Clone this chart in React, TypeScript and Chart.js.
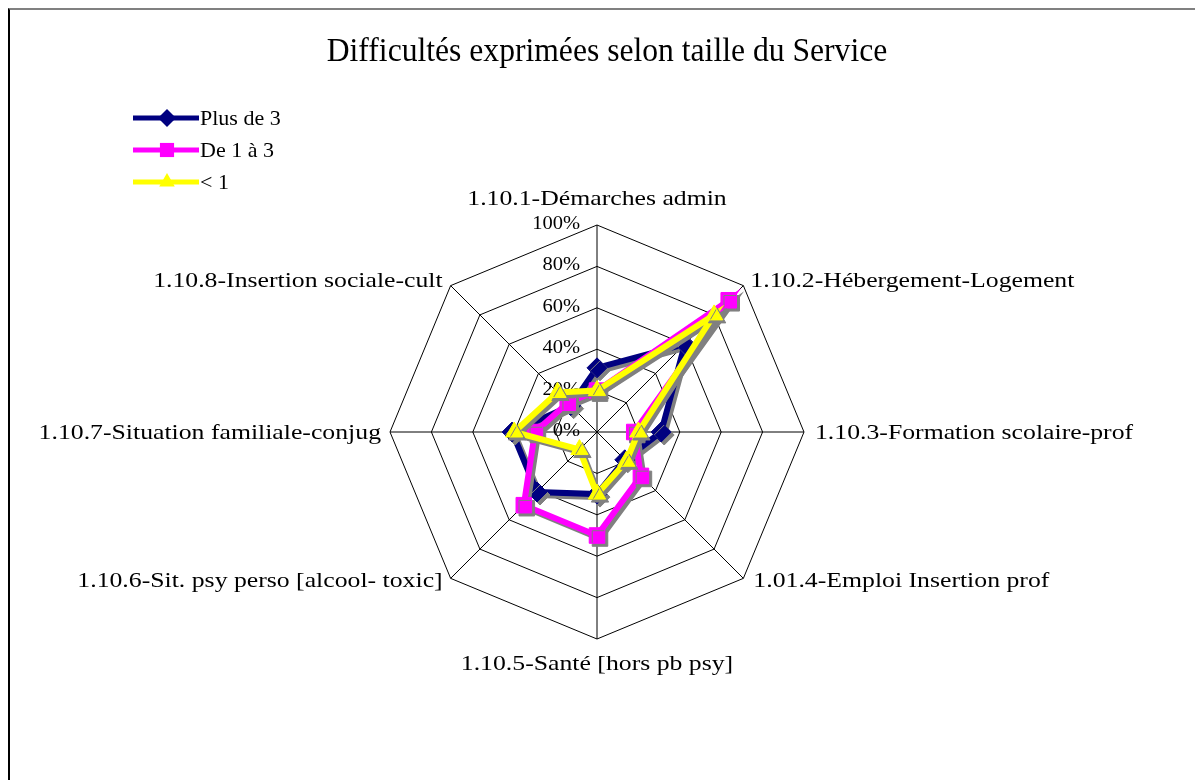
import React, { useEffect, useRef } from "react";
import { Chart, registerables } from "chart.js";

Chart.register(...registerables);

// ---------- data ----------
const TITLE = "Difficultés exprimées selon taille du Service";
const CATEGORIES = [
  "1.10.1-Démarches admin",
  "1.10.2-Hébergement-Logement",
  "1.10.3-Formation scolaire-prof",
  "1.01.4-Emploi Insertion prof",
  "1.10.5-Santé [hors pb psy]",
  "1.10.6-Sit. psy perso [alcool- toxic]",
  "1.10.7-Situation familiale-conjug",
  "1.10.8-Insertion sociale-cult",
];
const SERIES_NAMES = ["Plus de 3", "De 1 à 3", "< 1"];
const PLUS_DE_3 = [31, 60, 31, 19, 30, 41, 41, 18];
const DE_1_A_3 = [20, 90, 18, 30, 50, 50, 30, 20];
const MOINS_DE_1 = [20, 80, 20, 20, 30, 12, 40, 27];
const TICK_LABELS = ["0%", "20%", "40%", "60%", "80%", "100%"];

// ---------- styles ----------
const NAVY = "#000080";
const PINK = "#FF00FF";
const YELLOW = "#FFFF00";
const SERIF = '"Liberation Serif", "Times New Roman", serif';

function drawText(
  ctx: CanvasRenderingContext2D,
  text: string,
  x: number,
  y: number,
  size: number,
  sx: number,
  align: CanvasTextAlign
) {
  ctx.save();
  ctx.font = `${size}px ${SERIF}`;
  ctx.fillStyle = "#000";
  ctx.textAlign = align;
  ctx.textBaseline = "alphabetic";
  ctx.translate(x, y);
  ctx.scale(sx, 1);
  ctx.fillText(text, 0, 0);
  ctx.restore();
}

function drawMarker(ctx: CanvasRenderingContext2D, style: string, x: number, y: number, r: number, color: string) {
  ctx.save();
  ctx.fillStyle = color;
  ctx.beginPath();
  if (style === "rectRot") {
    ctx.moveTo(x, y - r);
    ctx.lineTo(x + r, y);
    ctx.lineTo(x, y + r);
    ctx.lineTo(x - r, y);
    ctx.closePath();
  } else if (style === "rect") {
    const s = r * Math.SQRT1_2;
    ctx.rect(x - s, y - s, 2 * s, 2 * s);
  } else {
    ctx.moveTo(x, y - r);
    ctx.lineTo(x + r * 0.866, y + r * 0.5);
    ctx.lineTo(x - r * 0.866, y + r * 0.5);
    ctx.closePath();
  }
  ctx.fill();
  ctx.restore();
}

const shadowPlugin = {
  id: "excelShadow",
  beforeDatasetDraw(chart: any) {
    const ctx = chart.ctx;
    ctx.save();
    ctx.shadowColor = "#808080";
    ctx.shadowOffsetX = 3;
    ctx.shadowOffsetY = 3;
    ctx.shadowBlur = 0;
  },
  afterDatasetDraw(chart: any) {
    chart.ctx.restore();
  },
};

// label placement (alignment + offsets from the axis end)
const LABEL_PLACE: { align: CanvasTextAlign; dx: number; dy: number }[] = [
  { align: "center", dx: 0, dy: -20 },
  { align: "left", dx: 7, dy: 1 },
  { align: "left", dx: 11, dy: 7 },
  { align: "left", dx: 10, dy: 9 },
  { align: "center", dx: 0, dy: 31 },
  { align: "right", dx: -8, dy: 9 },
  { align: "right", dx: -9, dy: 7 },
  { align: "right", dx: -8, dy: 1 },
];

const textPlugin = {
  id: "excelText",
  beforeDatasetsDraw(chart: any) {
    const ctx = chart.ctx as CanvasRenderingContext2D;
    const scale = chart.scales.r;
    scale.ticks.forEach((t: any) => {
      const d = scale.getDistanceFromCenterForValue(t.value);
      drawText(ctx, t.label, scale.xCenter - 17, scale.yCenter - d + 4, 18, 1.14, "right");
    });
    CATEGORIES.forEach((label, i) => {
      const p = scale.getPointPosition(i, scale.drawingArea);
      const pl = LABEL_PLACE[i];
      drawText(ctx, label, p.x + pl.dx, p.y + pl.dy, 22, 1.17, pl.align);
    });
  },
  afterDraw(chart: any) {
    const ctx = chart.ctx as CanvasRenderingContext2D;
    drawText(ctx, TITLE, 597, 51, 34, 0.93, "center");
    chart.data.datasets.forEach((ds: any, i: number) => {
      const y = 108 + i * 32;
      ctx.save();
      ctx.strokeStyle = ds.borderColor;
      ctx.lineWidth = 5;
      ctx.beginPath();
      ctx.moveTo(123, y);
      ctx.lineTo(189, y);
      ctx.stroke();
      ctx.restore();
      drawMarker(ctx, ds.pointStyle, 157, y, ds.pointRadius - 1, ds.borderColor);
      drawText(ctx, ds.label, 190, y + 7, 22, 1.0, "left");
    });
  },
};

export default function App() {
  const ref = useRef<HTMLCanvasElement>(null);
  useEffect(() => {
    const canvas = ref.current!;
    const chart = new Chart(canvas, {
      type: "radar",
      data: {
        labels: CATEGORIES,
        datasets: [
          {
            label: SERIES_NAMES[0],
            data: PLUS_DE_3,
            borderColor: NAVY,
            backgroundColor: NAVY,
            pointBorderColor: NAVY,
            pointBackgroundColor: NAVY,
            pointStyle: "rectRot",
            pointRadius: 10,
            pointBorderWidth: 1,
            borderWidth: 6,
            fill: false,
            order: 3,
          },
          {
            label: SERIES_NAMES[1],
            data: DE_1_A_3,
            borderColor: PINK,
            backgroundColor: PINK,
            pointBorderColor: PINK,
            pointBackgroundColor: PINK,
            pointStyle: "rect",
            pointRadius: 11,
            pointBorderWidth: 1,
            borderWidth: 6,
            fill: false,
            order: 2,
          },
          {
            label: SERIES_NAMES[2],
            data: MOINS_DE_1,
            borderColor: YELLOW,
            backgroundColor: YELLOW,
            pointBorderColor: YELLOW,
            pointBackgroundColor: YELLOW,
            pointStyle: "triangle",
            pointRadius: 10,
            pointBorderWidth: 1,
            borderWidth: 6,
            fill: false,
            order: 1,
          },
        ],
      } as any,
      options: {
        animation: false,
        responsive: false,
        maintainAspectRatio: false,
        layout: { padding: { left: 380, right: 399, top: 215, bottom: 141 } },
        plugins: {
          legend: { display: false },
          title: { display: false },
          tooltip: { enabled: false },
        },
        elements: { line: { tension: 0 } },
        scales: {
          r: {
            min: 0,
            max: 100,
            ticks: {
              stepSize: 20,
              display: false,
              callback: (_v: any, i: number) => TICK_LABELS[i],
            },
            grid: { color: "#000", lineWidth: 1, circular: false },
            angleLines: { color: "#000", lineWidth: 1 },
            pointLabels: { display: false },
          },
        },
      } as any,
      plugins: [shadowPlugin, textPlugin],
    });
    return () => chart.destroy();
  }, []);
  return (
    <div
      style={{
        width: 1195,
        height: 772,
        boxSizing: "border-box",
        borderTop: "2px solid #808080",
        borderLeft: "2px solid #000",
        overflow: "hidden",
        background: "#fff",
      }}
    >
      <canvas ref={ref} width={1193} height={770} style={{ display: "block" }} />
    </div>
  );
}
